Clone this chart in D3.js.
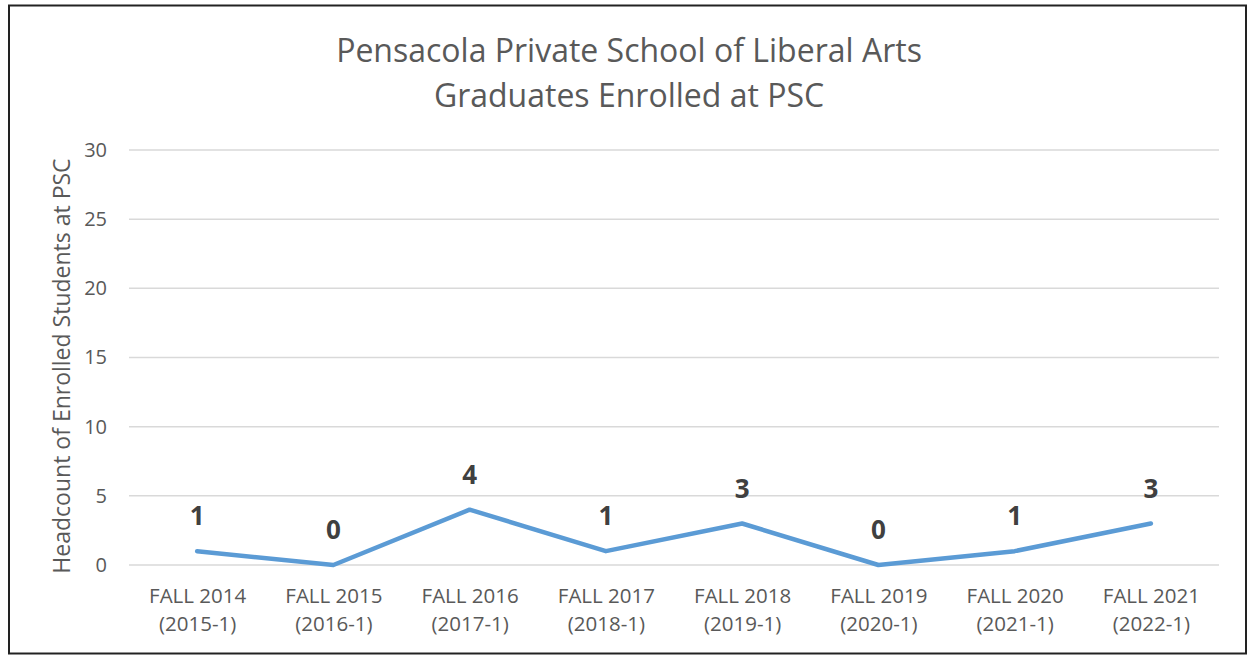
<!DOCTYPE html>
<html>
<head>
<meta charset="utf-8">
<script src="https://cdn.jsdelivr.net/npm/d3@7"></script>
<style>
  html, body { margin: 0; padding: 0; background: #fff; }
  svg { display: block; }
</style>
</head>
<body>
<svg id="chart"></svg>
<script>
// chart data
const terms = ["FALL 2014", "FALL 2015", "FALL 2016", "FALL 2017", "FALL 2018", "FALL 2019", "FALL 2020", "FALL 2021"];
const termCodes = ["(2015-1)", "(2016-1)", "(2017-1)", "(2018-1)", "(2019-1)", "(2020-1)", "(2021-1)", "(2022-1)"];
const headcounts = [1, 0, 4, 1, 3, 0, 1, 3];
const yTicks = [0, 5, 10, 15, 20, 25, 30];

const width = 1250;
const height = 656;
const font = "'Open Sans', sans-serif";

const svg = d3.select("#chart")
  .attr("width", width)
  .attr("height", height);

// outer border
svg.append("rect")
  .attr("x", 9)
  .attr("y", 5.5)
  .attr("width", 1237)
  .attr("height", 648)
  .attr("fill", "#fff")
  .attr("stroke", "#222")
  .attr("stroke-width", 2);

// Title
const title = svg.append("text")
  .attr("text-anchor", "middle")
  .attr("fill", "#595959")
  .style("font-family", font)
  .style("font-size", "32px");
title.append("tspan").attr("x", 629).attr("y", 62).text("Pensacola Private School of Liberal Arts");
title.append("tspan").attr("x", 629).attr("y", 107).text("Graduates Enrolled at PSC");

// Scales
const xScale = d3.scalePoint()
  .domain(terms)
  .range([129, 1219])
  .padding(0.5);

const yScale = d3.scaleLinear()
  .domain([0, 30])
  .range([565, 150]);

// gridlines
svg.append("g")
  .selectAll("line")
  .data(yTicks)
  .enter()
  .append("line")
  .attr("x1", 129)
  .attr("x2", 1219)
  .attr("y1", d => yScale(d))
  .attr("y2", d => yScale(d))
  .attr("stroke", "#d9d9d9")
  .attr("stroke-width", 1.5);

// y axis (labels only)
const yAxis = d3.axisLeft(yScale)
  .tickValues(yTicks)
  .tickSize(0)
  .tickPadding(0);

const yG = svg.append("g")
  .attr("transform", "translate(107,0)")
  .call(yAxis);
yG.select(".domain").remove();
yG.selectAll("text")
  .attr("fill", "#595959")
  .style("font-family", font)
  .style("font-size", "20px");

// x axis (labels only, two lines)
const xAxis = d3.axisBottom(xScale).tickSize(0).tickFormat("");
const xG = svg.append("g")
  .attr("transform", "translate(0,565)")
  .call(xAxis);
xG.select(".domain").remove();
xG.selectAll(".tick").each(function(d, i) {
  const t = d3.select(this).append("text")
    .attr("text-anchor", "middle")
    .attr("fill", "#595959")
    .style("font-family", font)
    .style("font-size", "20.5px");
  t.append("tspan").attr("x", 0).attr("y", 38).text(d);
  t.append("tspan").attr("x", 0).attr("y", 66).text(termCodes[i]);
});

// y axis title
svg.append("text")
  .attr("transform", "translate(70,366) rotate(-90)")
  .attr("text-anchor", "middle")
  .attr("fill", "#595959")
  .style("font-family", font)
  .style("font-size", "23px")
  .text("Headcount of Enrolled Students at PSC");

// line
const line = d3.line()
  .x((d, i) => xScale(terms[i]))
  .y(d => yScale(d));

svg.append("path")
  .datum(headcounts)
  .attr("d", line)
  .attr("fill", "none")
  .attr("stroke", "#5b9bd5")
  .attr("stroke-width", 4.5)
  .attr("stroke-linejoin", "round")
  .attr("stroke-linecap", "round");

// data labels
svg.append("g")
  .selectAll("text")
  .data(headcounts)
  .enter()
  .append("text")
  .attr("x", (d, i) => xScale(terms[i]))
  .attr("y", d => yScale(d) - 26)
  .attr("text-anchor", "middle")
  .attr("fill", "#404040")
  .style("font-family", font)
  .style("font-weight", "bold")
  .style("font-size", "26px")
  .text(d => d);
</script>
</body>
</html>
